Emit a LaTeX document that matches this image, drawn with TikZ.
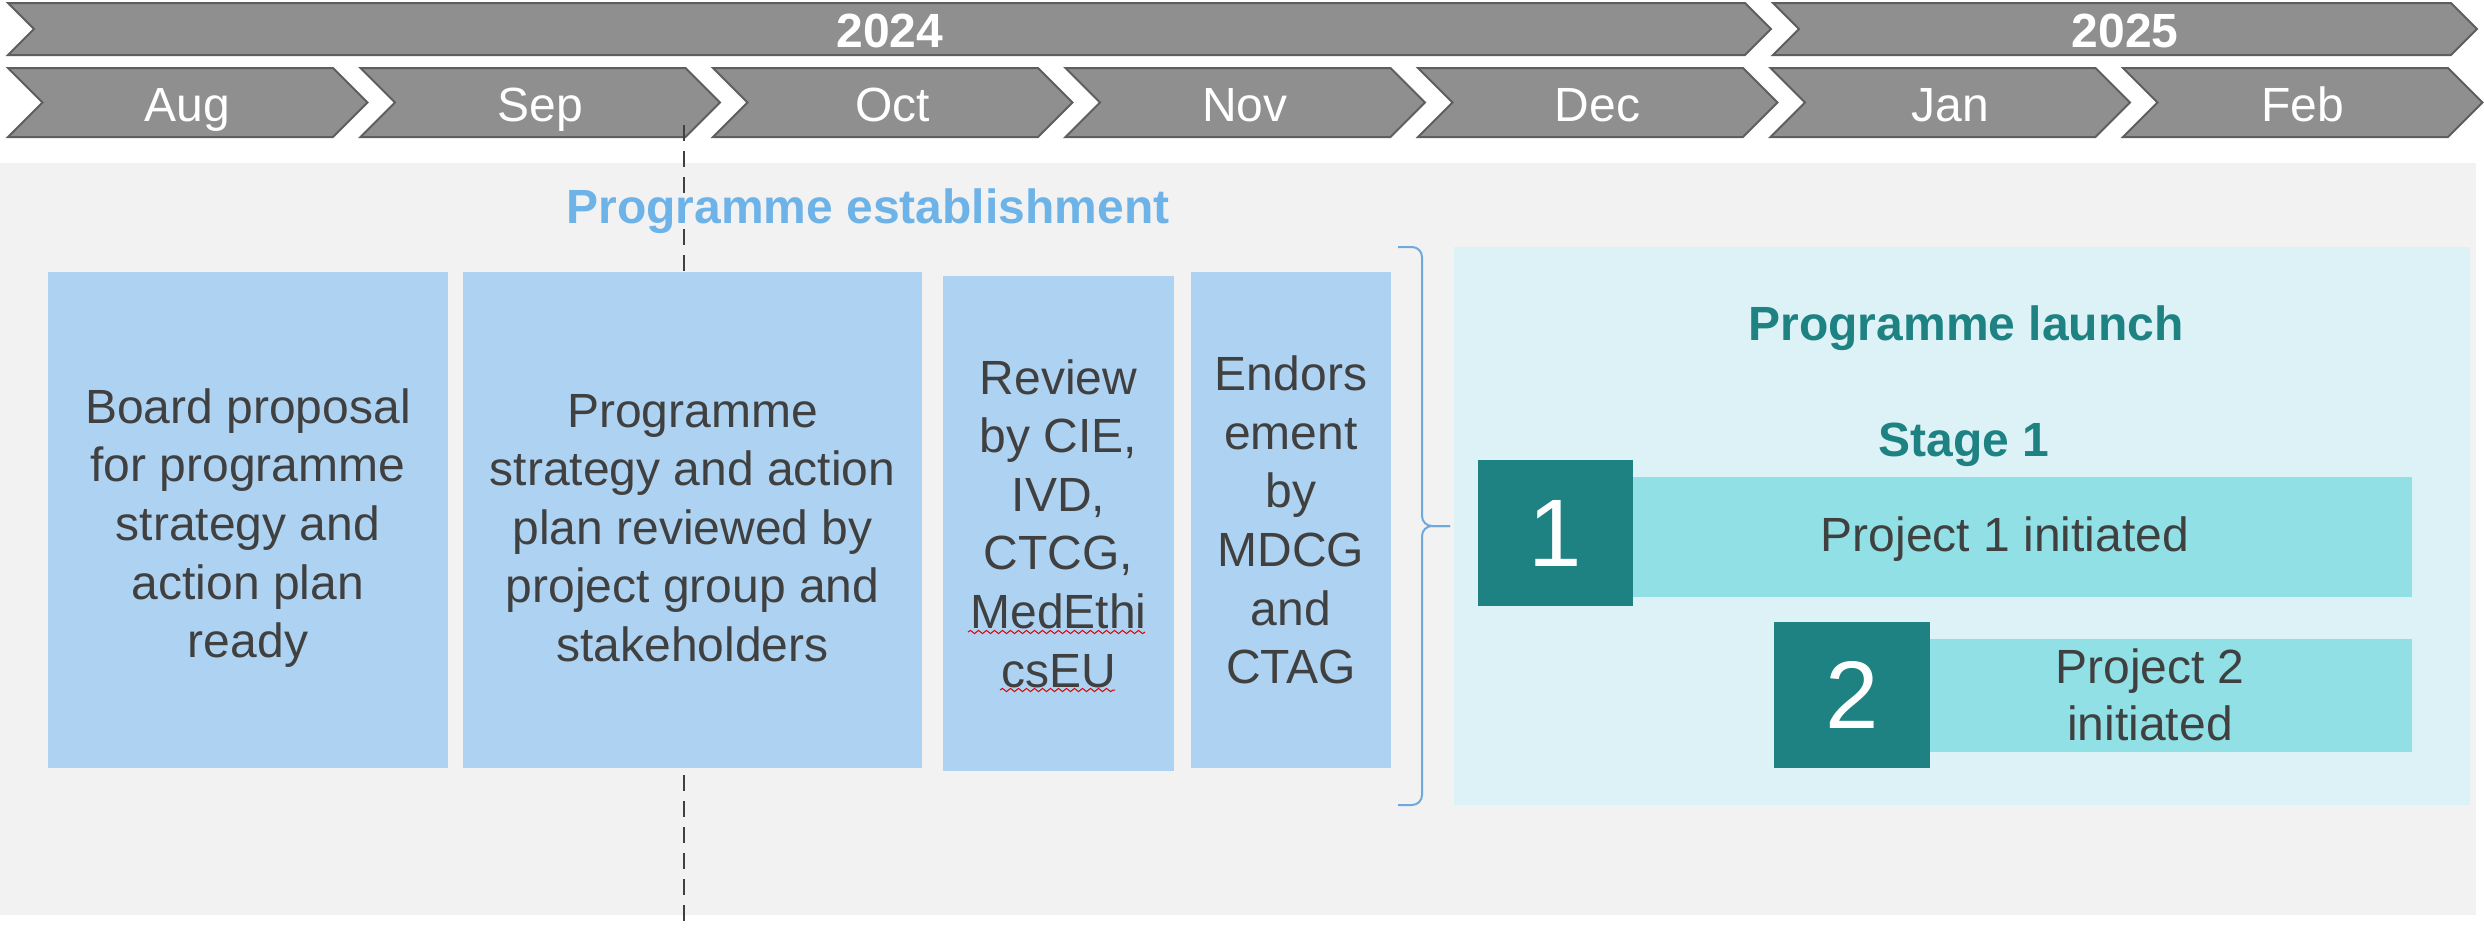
\documentclass[tikz,border=0pt]{standalone}
\usepackage{fontspec}
\setmainfont{Liberation Sans}
\usetikzlibrary{decorations.pathmorphing}

\definecolor{chevfill}{HTML}{8F8F8F}
\definecolor{chevline}{HTML}{5E5E5E}
\definecolor{bggray}{HTML}{F2F2F2}
\definecolor{boxblue}{HTML}{AED3F2}
\definecolor{estblue}{HTML}{6DB3E8}
\definecolor{panelcyan}{HTML}{DCF2F7}
\definecolor{tealdark}{HTML}{1E8282}
\definecolor{barcyan}{HTML}{90E0E6}
\definecolor{bodytext}{HTML}{404040}
\definecolor{bracecol}{HTML}{6FA8DC}

\tikzset{
  chev/.style={fill=chevfill, draw=chevline, line width=1pt, line join=miter},
  chevlabel/.style={text=white, font=\fontsize{24}{29}\selectfont, anchor=base, inner sep=0pt},
  yearlabel/.style={chevlabel, font=\fontsize{24}{29}\selectfont\bfseries},
  stepbox/.style={fill=boxblue, inner sep=0pt},
  steptext/.style={text=bodytext, align=center, inner sep=0pt,
    font=\fontsize{24}{29.3}\selectfont},
  headline/.style={font=\fontsize{24}{29}\selectfont\bfseries, anchor=base, inner sep=0pt},
  numsq/.style={fill=tealdark, text=white, inner sep=0pt, font=\fontsize{48}{56}\selectfont},
  projbar/.style={fill=barcyan, inner sep=0pt},
  projtext/.style={text=bodytext, align=center, inner sep=0pt, font=\fontsize{24}{28.5}\selectfont},
  dashline/.style={draw=bodytext, line width=1pt, dash pattern=on 8pt off 5pt},
  bracket/.style={draw=bracecol, line width=1pt, rounded corners=5pt},
  squiggle/.style={draw=red!85!black, line width=0.5pt,
    decorate, decoration={snake, segment length=4pt, amplitude=0.8pt}},
}

\begin{document}
\begin{tikzpicture}[x=0.5pt, y=-0.5pt]
  \useasboundingbox (0,0) rectangle (2484,928);
  \fill[white] (0,0) rectangle (2484,928);

  % grey working area
  \fill[bggray] (0,163) rectangle (2476,915);

  % year chevrons
  \draw[chev] (8,3) -- (1745,3) -- (1771,29) -- (1745,55) -- (8,55) -- (34,29) -- cycle;
  \node[yearlabel] (y2024) at (890,47) {2024};
  \draw[chev] (1773,3) -- (2451,3) -- (2477,29) -- (2451,55) -- (1773,55) -- (1799,29) -- cycle;
  \node[yearlabel] (y2025) at (2125,47) {2025};

  % month chevrons
  \foreach \m [count=\i from 0] in {Aug,Sep,Oct,Nov,Dec,Jan,Feb} {
    \pgfmathsetmacro\xl{8+\i*352.5}
    \pgfmathsetmacro\xr{\xl+325}
    \draw[chev] (\xl,68) -- (\xr,68) -- (\xr+34.5,102.5) -- (\xr,137)
      -- (\xl,137) -- (\xl+34.5,102.5) -- cycle;
    \node[chevlabel] (m\m) at ({(\xl+\xr)/2+17},121) {\m};
  }

  % today marker
  \coordinate (dtop) at (684,125);
  \coordinate (dbot) at (684,928);
  \draw[dashline] (dtop) -- (dbot);

  % programme establishment
  \node[headline, text=estblue] (esttitle) at (868,223) {Programme establishment};

  \node[stepbox, minimum width=200pt, minimum height=248pt] (s1) at (248,520) {};
  \node[stepbox, minimum width=229.5pt, minimum height=248pt] (s2) at (692.5,520) {};
  \node[stepbox, minimum width=115.5pt, minimum height=247.5pt] (s3) at (1058.5,523.5) {};
  \node[stepbox, minimum width=100pt, minimum height=248pt] (s4) at (1291,520) {};

  \node[steptext] (t1) at (248,528)
    {Board proposal\\for programme\\strategy and\\action plan\\ready};
  \node[steptext] (t2) at (692.5,528)
    {Programme\\strategy and action\\plan reviewed by\\project group and\\stakeholders};
  \node[steptext] (t3) at (1058.5,523.5)
    {Review\\by CIE,\\IVD,\\CTCG,\\MedEthi\\csEU};
  \node[steptext] (t4) at (1291,520)
    {Endors\\ement\\by\\MDCG\\and\\CTAG};

  % spelling marks under the committee name
  \coordinate (sqa) at (968,632);
  \coordinate (sqb) at (1145,632);
  \coordinate (sqc) at (1000,690);
  \coordinate (sqd) at (1115,690);
  \draw[squiggle] (sqa) -- (sqb);
  \draw[squiggle] (sqc) -- (sqd);

  % brace
  \draw[bracket] (1398,247) -- (1422,247) -- (1422,526) -- (1450,526);
  \draw[bracket] (1450,526) -- (1422,526) -- (1422,805) -- (1398,805);

  % programme launch panel
  \node[fill=panelcyan, inner sep=0pt, minimum width=508pt, minimum height=279pt] (panel) at (1962,526) {};
  \node[headline, text=tealdark] (launch) at (1966,340) {Programme launch};
  \node[headline, text=tealdark] (stage) at (1964,456) {Stage 1};

  \node[projbar, minimum width=389.5pt, minimum height=60pt] (bar1) at (2022.5,537) {};
  \node[numsq, minimum width=77.5pt, minimum height=73pt] (n1) at (1555.5,533) {1};
  \node[projtext, anchor=base] (p1) at (2005,551) {Project 1 initiated};

  \node[projbar, minimum width=241pt, minimum height=56.5pt] (bar2) at (2171,695.5) {};
  \node[numsq, minimum width=78pt, minimum height=73pt] (n2) at (1852,695) {2};
  \node[projtext] (p2) at (2150,695) {Project 2\\initiated};
\end{tikzpicture}
\end{document}
